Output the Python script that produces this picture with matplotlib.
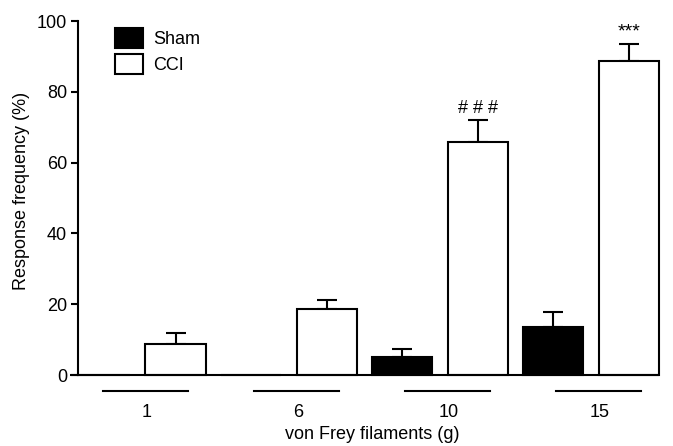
import numpy as np
import matplotlib.pyplot as plt
from matplotlib.patches import Patch

plt.rcParams['font.family'] = ['Liberation Sans', 'DejaVu Sans']

# Data
filaments = ["1", "6", "10", "15"]
sham_mean = [0, 0, 5.2, 13.6]
sham_err = [0, 0, 2.1, 4.1]
cci_mean = [8.7, 18.6, 65.9, 88.8]
cci_err = [3.3, 2.6, 6.0, 4.6]
marks = ["", "", "# # #", "***"]

x = np.arange(len(filaments))
width = 0.4

fig = plt.figure(figsize=(6.73, 4.46), dpi=100)
ax = fig.add_axes([78 / 673, 71 / 446, 580 / 673, 354 / 446])

lw = 1.5
fs = 13
# Sham bars (only where a bar is visible)
ax.bar(x - 0.31, sham_mean, width, color="black", edgecolor="black", linewidth=lw, clip_on=False)
ax.errorbar(x[2:] - 0.31, sham_mean[2:], yerr=[np.zeros(2), sham_err[2:]], fmt="none",
            ecolor="black", elinewidth=lw, capsize=7.5, capthick=lw)
# CCI bars
ax.bar(x + 0.19, cci_mean, width, color="white", edgecolor="black", linewidth=lw, zorder=2,
       clip_on=False)
ax.errorbar(x + 0.19, cci_mean, yerr=[np.zeros(4), cci_err], fmt="none",
            ecolor="black", elinewidth=lw, capsize=7.5, capthick=lw, zorder=1)

# significance marks
for i, m in enumerate(marks):
    if m:
        ax.text(x[i] + 0.19, cci_mean[i] + cci_err[i] + 1.0, m, ha="center", va="bottom",
                fontsize=14 if m == "***" else fs)

# group underline
for xi in x:
    ax.plot([xi - 0.29, xi + 0.27], [-4.5, -4.5], color="black", lw=1.5, clip_on=False)

ax.set_xlim(-0.457, 3.384)
ax.set_ylim(0, 100)
ax.set_yticks([0, 20, 40, 60, 80, 100])
ax.set_xticks(x)
ax.set_xticklabels(filaments)
ax.tick_params(axis="x", length=0, pad=21, labelsize=fs)
ax.tick_params(axis="y", length=5, width=1.5, labelsize=fs, pad=3)

for s in ["top", "right"]:
    ax.spines[s].set_visible(False)
ax.spines["left"].set_linewidth(1.5)
ax.spines["bottom"].set_linewidth(1.5)

ax.set_xlabel("von Frey filaments (g)", fontsize=fs)
ax.xaxis.set_label_coords(0.508, -0.145)
ax.set_ylabel("Response frequency (%)", fontsize=fs)
ax.yaxis.set_label_coords(-0.083, 0.52)

handles = [Patch(facecolor="black", edgecolor="black", linewidth=lw, label="Sham"),
           Patch(facecolor="white", edgecolor="black", linewidth=lw, label="CCI")]
ax.legend(handles=handles, loc="upper left", bbox_to_anchor=(0.052, 1.0), frameon=False,
          fontsize=fs, handlelength=1.55, handleheight=1.35, handletextpad=0.55,
          labelspacing=0.3, borderaxespad=0)

fig.savefig("out.png", dpi=100)
